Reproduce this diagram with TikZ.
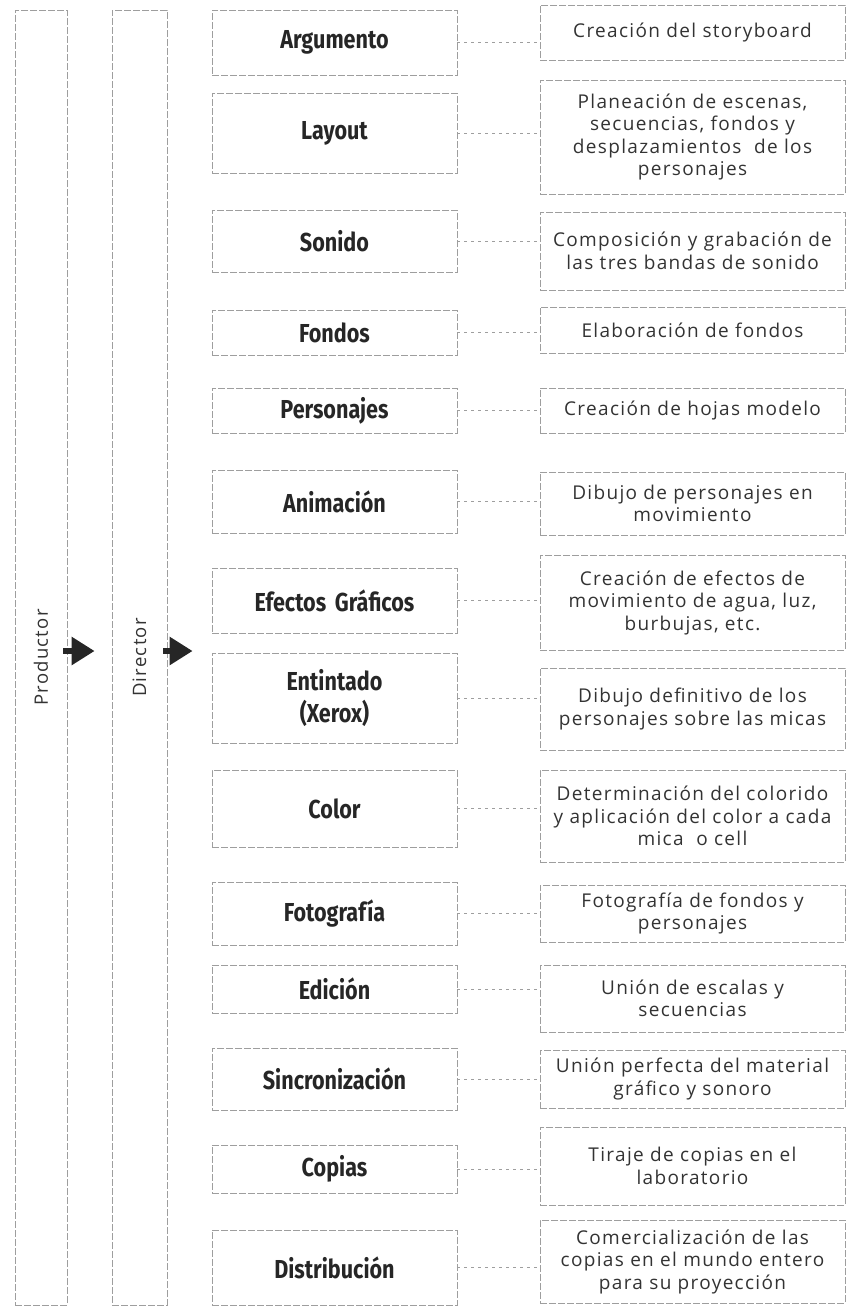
\documentclass[tikz,border=0pt]{standalone}
\usepackage{fontspec}
\setmainfont[LetterSpace=7]{Open Sans}
\newfontfamily\stagefont[FakeStretch=0.83]{Fira Sans}
\usepackage{graphicx}
\usepackage{tikz}
\usetikzlibrary{shapes, arrows, arrows.meta, calc}
\definecolor{scanGray}{gray}{0.62}
\tikzstyle{lane} = [rectangle, draw=scanGray, line width=0.8pt,
    dash pattern=on 7pt off 2pt, minimum height=1295pt, inner sep=0pt,
    text=black!80, font=\fontsize{18.5}{20}\selectfont]
\tikzstyle{stage} = [rectangle, draw=scanGray, line width=0.8pt,
    dash pattern=on 7pt off 2pt, minimum width=245pt, text width=232pt,
    align=center, text=black!85,
    font=\stagefont\bfseries\fontsize{26}{32}\selectfont]
\tikzstyle{task} = [rectangle, draw=scanGray, line width=0.8pt,
    dash pattern=on 7pt off 2pt, minimum width=305pt, text width=300pt,
    inner sep=2pt, align=center, text=black!80,
    font=\fontsize{19}{22.5}\selectfont]
\tikzstyle{line} = [draw=scanGray, line width=0.8pt, dash pattern=on 3pt off 4pt]

\begin{document}
\begin{tikzpicture}[x=1pt, y=-1pt,
    bigArrow/.style={draw=black!85, line width=6pt,
        -{Triangle[length=23pt, width=27pt]}},
    h/.style={minimum height=#1pt}
    ]
    \useasboundingbox (0,0) rectangle (847,1309);

    \node[lane, minimum width=52pt] (productor) at (41,657.5) {\rotatebox{90}{Productor}};
    \node[lane, minimum width=55pt] (director) at (139.5,657.5) {\rotatebox{90}{Director}};

    \node[stage, h=65] (argumento) at (334.5,42.5) {Argumento};
    \node[stage, h=80] (layout) at (334.5,133) {Layout};
    \node[stage, h=62] (sonido) at (334.5,241) {Sonido};
    \node[stage, h=45] (fondos) at (334.5,332.5) {Fondos};
    \node[stage, h=45] (personajes) at (334.5,410.5) {Personajes};
    \node[stage, h=63] (animacion) at (334.5,501.5) {Animación};
    \node[stage, h=65] (efectos) at (334.5,600.5) {Efectos Gráficos};
    \node[stage, h=90] (entintado) at (334.5,698) {Entintado\\(Xerox)};
    \node[stage, h=77] (color) at (334.5,808.5) {Color};
    \node[stage, h=63] (fotografia) at (334.5,913.5) {Fotografía};
    \node[stage, h=48] (edicion) at (334.5,989) {Edición};
    \node[stage, h=62] (sincro) at (334.5,1079) {Sincronización};
    \node[stage, h=48] (copias) at (334.5,1169) {Copias};
    \node[stage, h=75] (distribucion) at (334.5,1267.5) {Distribución};

    \node[task, h=55] (argumentoTask) at (692.5,32.5) {Creación del storyboard};
    \node[task, h=114] (layoutTask) at (692.5,137) {Planeación de escenas,\\ secuencias, fondos y\\ desplazamientos\ \ de los\\ personajes};
    \node[task, h=78] (sonidoTask) at (692.5,251) {Composición y grabación de\\ las tres bandas de sonido};
    \node[task, h=46] (fondosTask) at (692.5,330) {Elaboración de fondos};
    \node[task, h=45] (personajesTask) at (692.5,410.5) {Creación de hojas modelo};
    \node[task, h=63] (animacionTask) at (692.5,503.5) {Dibujo de personajes en\\ movimiento};
    \node[task, h=95] (efectosTask) at (692.5,602.5) {Creación de efectos de\\ movimiento de agua, luz,\\ burbujas, etc.};
    \node[task, h=82] (entintadoTask) at (692.5,709) {Dibujo definitivo de los\\ personajes sobre las micas};
    \node[task, h=92] (colorTask) at (692.5,816) {Determinación del colorido\\ y aplicación del color a cada\\ mica\ \ o cell};
    \node[task, h=57] (fotografiaTask) at (692.5,913.5) {Fotografía de fondos y\\ personajes};
    \node[task, h=67] (edicionTask) at (692.5,998.5) {Unión de escalas y\\ secuencias};
    \node[task, h=58] (sincroTask) at (692.5,1079) {Unión perfecta del material\\ gráfico y sonoro};
    \node[task, h=78] (copiasTask) at (692.5,1166) {Tiraje de copias en el\\ laboratorio};
    \node[task, h=83] (distribucionTask) at (692.5,1261.5) {Comercialización de las\\ copias en el mundo entero\\ para su proyección};

    \draw[bigArrow, shorten <=-4pt, shorten >=17pt] ([yshift=6.5pt]productor.east) -- ([yshift=6.5pt]director.west);
    \draw[bigArrow, shorten <=-4pt, shorten >=19pt] ([yshift=6.5pt]director.east) -- ([yshift=6.5pt]director.east -| argumento.west);

    \draw[line] (argumento) -- (argumento -| argumentoTask.west);
    \draw[line] (layout) -- (layout -| layoutTask.west);
    \draw[line] (sonido) -- (sonido -| sonidoTask.west);
    \draw[line] (fondos) -- (fondos -| fondosTask.west);
    \draw[line] (personajes) -- (personajes -| personajesTask.west);
    \draw[line] (animacion) -- (animacion -| animacionTask.west);
    \draw[line] (efectos) -- (efectos -| efectosTask.west);
    \draw[line] (entintado) -- (entintado -| entintadoTask.west);
    \draw[line] (color) -- (color -| colorTask.west);
    \draw[line] (fotografia) -- (fotografia -| fotografiaTask.west);
    \draw[line] (edicion) -- (edicion -| edicionTask.west);
    \draw[line] (sincro) -- (sincro -| sincroTask.west);
    \draw[line] (copias) -- (copias -| copiasTask.west);
    \draw[line] (distribucion) -- (distribucion -| distribucionTask.west);
\end{tikzpicture}
\end{document}
